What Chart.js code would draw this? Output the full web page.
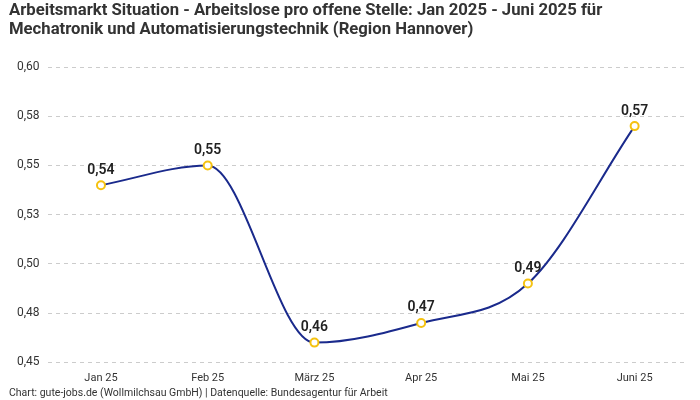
<!DOCTYPE html>
<html>
<head>
<meta charset="utf-8">
<script src="https://cdn.jsdelivr.net/npm/chart.js@4"></script>
<style>
  html, body { margin: 0; padding: 0; background: #fff; }
  #wrap { width: 700px; height: 400px; }
</style>
</head>
<body>
<div id="wrap"><canvas id="chart"></canvas></div>
<script>
const months = ['Jan 25', 'Feb 25', 'März 25', 'Apr 25', 'Mai 25', 'Juni 25'];
const ratios = [0.54, 0.55, 0.46, 0.47, 0.49, 0.57];
const yTicks = [0.45, 0.475, 0.5, 0.525, 0.55, 0.575, 0.6];

const fontFamily = 'Roboto, "Noto Sans", sans-serif';

function fmt(v) {
    return (Math.round(v * 100 + 1e-6) / 100).toFixed(2).replace('.', ',');
}

// draws the value above each point
const valueLabels = {
    id: 'valueLabels',
    afterDatasetsDraw(chart) {
        const ctx = chart.ctx;
        const meta = chart.getDatasetMeta(0);
        ctx.save();
        ctx.font = '600 14px ' + fontFamily;
        ctx.fillStyle = '#222';
        ctx.textAlign = 'center';
        ctx.textBaseline = 'bottom';
        meta.data.forEach((pt, i) => {
            ctx.fillText(fmt(ratios[i]), pt.x, pt.y - 8);
        });
        ctx.restore();
    }
};

new Chart(document.getElementById('chart'), {
    type: 'line',
    data: {
        labels: months,
        datasets: [{
            data: ratios,
            borderColor: '#1a2a8c',
            borderWidth: 2,
            cubicInterpolationMode: 'monotone',
            pointBackgroundColor: '#fff',
            pointBorderColor: '#f5c211',
            pointBorderWidth: 2,
            pointRadius: 4,
            fill: false
        }]
    },
    options: {
        responsive: true,
        maintainAspectRatio: false,
        animation: false,
        layout: { padding: { left: 9, right: 12, top: 0, bottom: 0 } },
        plugins: {
            legend: { display: false },
            tooltip: { enabled: false },
            title: {
                display: true,
                align: 'start',
                text: ['Arbeitsmarkt Situation - Arbeitslose pro offene Stelle: Jan 2025 - Juni 2025 für',
                       'Mechatronik und Automatisierungstechnik (Region Hannover)'],
                color: '#333',
                font: { family: fontFamily, size: 16.7, weight: 'bold', lineHeight: 1.17 },
                padding: { top: 1, bottom: 27 }
            },
            subtitle: {
                display: true,
                position: 'bottom',
                align: 'start',
                text: 'Chart: gute-jobs.de (Wollmilchsau GmbH) | Datenquelle: Bundesagentur für Arbeit',
                color: '#333',
                font: { family: fontFamily, size: 10.5, lineHeight: 1.0 },
                padding: { top: 3, bottom: 1 }
            }
        },
        scales: {
            x: {
                offset: true,
                grid: { display: false },
                border: { display: false },
                ticks: { color: '#333', font: { family: fontFamily, size: 11 }, padding: 1 }
            },
            y: {
                min: 0.45,
                max: 0.6,
                afterBuildTicks(axis) {
                    axis.ticks = yTicks.map(v => ({ value: v }));
                },
                grid: { color: '#cccccc', drawTicks: false },
                border: { display: false, dash: [4, 4] },
                ticks: {
                    color: '#333',
                    font: { family: fontFamily, size: 12 },
                    padding: 8,
                    callback: v => fmt(v)
                }
            }
        }
    },
    plugins: [valueLabels]
});
</script>
</body>
</html>
